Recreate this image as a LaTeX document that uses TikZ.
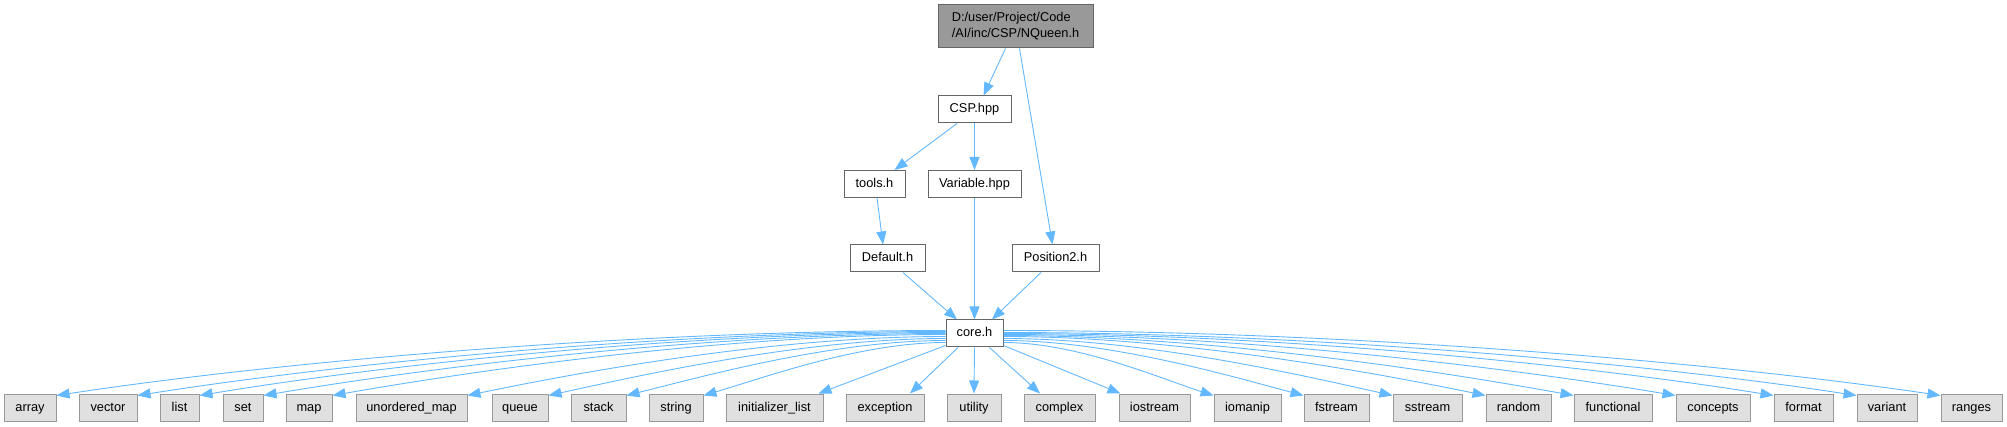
\documentclass[tikz,border=0pt]{standalone}
\usepackage{fontspec}
\setmainfont{Liberation Sans}
\usetikzlibrary{arrows.meta,calc}
\definecolor{edgec}{HTML}{63B8FF}
\definecolor{bd}{HTML}{666666}
\definecolor{bdl}{HTML}{999999}
\definecolor{sysf}{HTML}{E0E0E0}
\definecolor{mainf}{HTML}{999999}
\begin{document}
\begin{tikzpicture}[x=1pt,y=-1pt,
  box/.style={draw=bd, fill=white, line width=1pt, inner sep=0pt, minimum height=27pt, text height=9.5pt, text depth=2.5pt, font=\fontsize{12.8}{15}\selectfont},
  sys/.style={box, draw=bdl, fill=sysf},
  mainbox/.style={draw=bd, fill=mainf, line width=1pt, inner sep=0pt, align=left, font=\fontsize{12.8}{16}\selectfont},
  edge/.style={draw=edgec, line width=0.9pt, -{Triangle[length=13pt,width=10pt]}}]
\useasboundingbox (0,0) rectangle (2007,427);
% upper nodes
\node[mainbox, minimum width=155pt, minimum height=43pt] (nq) at (1015.5,26.5) {D:/user/Project/Code\\/AI/inc/CSP/NQueen.h};
\node[box, minimum width=73pt] (csp) at (974.5,109.5) {CSP.hpp};
\node[box, minimum width=61pt] (tools) at (874.5,184) {tools.h};
\node[box, minimum width=93pt] (var) at (974.5,184) {Variable.hpp};
\node[box, minimum width=75pt] (def) at (887.5,258.5) {Default.h};
\node[box, minimum width=87pt] (pos) at (1055.5,258.5) {Position2.h};
\node[box, minimum width=57pt] (core) at (974.5,333.5) {core.h};
% bottom nodes
\foreach \n/\x/\w/\t in {array/30/52/array, vector/108/58/vector, list/179.5/39/list, set/243/40/set,
  map/309/46/map, umap/411.5/111/unordered\_map, queue/520/56/queue, stack/598.5/55/stack,
  string/676/54/string, ilist/774.5/97/initializer\_list, exc/885/78/exception, util/974/54/utility,
  complex/1059.5/71/complex, iostream/1154.5/71/iostream, iomanip/1247.5/67/iomanip,
  fstream/1336.5/65/fstream, sstream/1427.5/69/sstream, random/1518.5/65/random,
  functional/1613/78/functional, concepts/1713/74/concepts, format/1803.5/59/format,
  variant/1887/60/variant, ranges/1971.5/61/ranges}
  \node[sys, minimum width=\w pt] (\n) at (\x,407.5) {\t};
% upper edges
\draw[edge] ($(nq.south)+(-10,0)$) -- ($(csp.north)+(9,0)$);
\draw[edge] ($(nq.south)+(4,0)$) -- ($(pos.north)+(-3,0)$);
\draw[edge] ($(csp.south)+(-17.5,0)$) -- ($(tools.north)+(20,0)$);
\draw[edge] (csp.south) -- (var.north);
\draw[edge] ($(tools.south)+(2.5,0)$) -- ($(def.north)+(-4.5,0)$);
\draw[edge] ($(def.south)+(15.5,0)$) -- ($(core.north)+(-17.5,0)$);
\draw[edge] (var.south) -- (core.north);
\draw[edge] ($(pos.south)+(-14.5,0)$) -- ($(core.north)+(17.5,0)$);
% left curved edges
\foreach \n/\ys/\a/\c/\b in {array/11/312/223/34, vector/12/283/202/32, list/13/261/187/31,
  set/14/239/171/29, map/15/215/154/27, umap/17/168/120/25, queue/19/139/100/22,
  stack/21/112/80/20, string/23/85/61/18}
  \draw[edge] ($(core.north west)+(0,\ys)$) .. controls +(-\a,0) and +(\c,-\b) .. ($(\n.north east)+(0,2)$);
% middle edges
\draw[edge] ($(core.south west)+(0,-2)$) -- ($(ilist.north east)+(-5,0)$);
\draw[edge] ($(core.south)+(-16.5,0)$) -- ($(exc.north)+(25,0)$);
\draw[edge] (core.south) -- (util.north);
\draw[edge] ($(core.south)+(15,0)$) -- ($(complex.north)+(-19.5,0)$);
\draw[edge] ($(core.south east)+(0,-2)$) -- ($(iostream.north west)+(2,0)$);
% right curved edges
\foreach \n/\ys/\a/\c/\b in {iomanip/23/74/53/17, fstream/21/105/75/20, sstream/19/137/98/22,
  random/17/169/121/25, functional/16/200/143/26, concepts/15/236/168/28,
  format/14/270/193/31, variant/13/299/214/33, ranges/11/328/235/35}
  \draw[edge] ($(core.north east)+(0,\ys)$) .. controls +(\a,0) and +(-\c,-\b) .. ($(\n.north west)+(0,2)$);
\end{tikzpicture}
\end{document}
